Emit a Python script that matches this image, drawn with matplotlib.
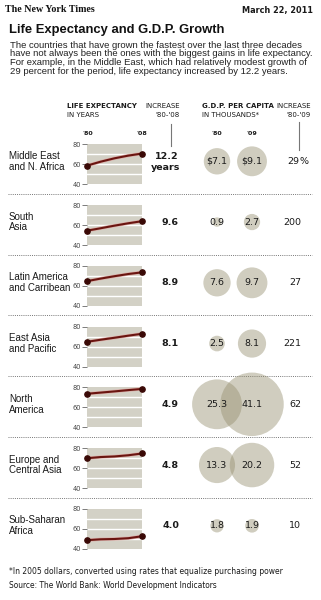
import matplotlib
matplotlib.use("Agg")
import matplotlib.pyplot as plt
import numpy as np

# ---------------- data ----------------
regions = ["Middle East\nand N. Africa", "South\nAsia", "Latin America\nand Carribean",
           "East Asia\nand Pacific", "North\nAmerica", "Europe and\nCentral Asia",
           "Sub-Saharan\nAfrica"]
years = [1980, 1987, 1994, 2001, 2008]
life_mena = [58.6, 62.6, 66.0, 68.7, 70.8]
life_sa = [54.3, 56.8, 59.4, 61.8, 63.9]
life_lac = [64.6, 67.2, 69.6, 71.8, 73.5]
life_eap = [64.7, 66.8, 68.8, 70.9, 72.8]
life_na = [73.5, 74.7, 75.9, 77.2, 78.4]
life_eca = [69.8, 71.0, 71.6, 72.8, 74.6]
life_ssa = [48.6, 49.5, 49.8, 50.6, 52.6]
life_series = [life_mena, life_sa, life_lac, life_eap, life_na, life_eca, life_ssa]
life_increase = [12.2, 9.6, 8.9, 8.1, 4.9, 4.8, 4.0]
gdp80 = [7.1, 0.9, 7.6, 2.5, 25.3, 13.3, 1.8]
gdp09 = [9.1, 2.7, 9.7, 8.1, 41.1, 20.2, 1.9]
gdp_increase = [29, 200, 27, 221, 62, 52, 10]
yticks = [40, 60, 80]

W, H = 321, 600
DPI = 100
fig = plt.figure(figsize=(W / DPI, H / DPI), dpi=DPI)
fig.patch.set_facecolor("white")
ax = fig.add_axes([0, 0, 1, 1])
ax.set_xlim(0, W)
ax.set_ylim(H, 0)
ax.axis("off")

renderer = fig.canvas.get_renderer()


def fit(x, y, s, width, **kw):
    t = ax.text(x, y, s, fontsize=10, **kw)
    bb = t.get_window_extent(renderer)
    t.set_fontsize(10 * width / bb.width)
    return t

SANS = "DejaVu Sans"
ARIAL = "Liberation Sans"
TXT = "#1a1a1a"

# header
fit(5, 10, "The New York Times", 90, family="Liberation Serif", weight="bold",
    va="center", ha="left", color="#111")
ax.text(313, 10.5, "March 22, 2011", fontsize=5.9, family=SANS, weight="bold",
        va="center", ha="right", color=TXT)
fit(9, 30, "Life Expectancy and G.D.P. Growth", 217, family=ARIAL, weight="bold",
    va="center", ha="left", color="#111")
sub = ["The countries that have grown the fastest over the last three decades",
       "have not always been the ones with the biggest gains in life expectancy.",
       "For example, in the Middle East, which had relatively modest growth of",
       "29 percent for the period, life expectancy increased by 12.2 years."]
t0 = fit(10, 45, sub[0], 291.5, family=ARIAL, va="center", ha="left", color="#222")
fs_sub = t0.get_fontsize()
for i, line in enumerate(sub[1:], 1):
    ax.text(10, 45 + 8.7 * i, line, fontsize=fs_sub, family=ARIAL, va="center",
            ha="left", color="#222")

# column headers
HFS = 5.0
ax.text(67, 105.7, "LIFE EXPECTANCY", fontsize=HFS, family=SANS, weight="bold",
        va="center", ha="left", color=TXT)
ax.text(67, 115, "IN YEARS", fontsize=HFS, family=SANS, va="center", ha="left", color=TXT)
ax.text(180, 105.7, "INCREASE", fontsize=HFS, family=SANS, va="center", ha="right", color=TXT)
ax.text(180, 115, "'80-'08", fontsize=HFS, family=SANS, va="center", ha="right", color=TXT)
ax.text(202, 105.7, "G.D.P. PER CAPITA", fontsize=HFS, family=SANS, weight="bold",
        va="center", ha="left", color=TXT)
ax.text(202, 115, "IN THOUSANDS*", fontsize=HFS, family=SANS, va="center", ha="left", color=TXT)
ax.text(311, 105.7, "INCREASE", fontsize=HFS, family=SANS, va="center", ha="right", color=TXT)
ax.text(311, 115, "'80-'09", fontsize=HFS, family=SANS, va="center", ha="right", color=TXT)
ax.plot([170.7, 170.7], [124, 146], color="#777", lw=0.8)
ax.plot([299, 299], [122, 150], color="#777", lw=0.8)
for xx, s in [(87.3, "'80"), (141.7, "'08"), (217, "'80"), (252, "'09")]:
    ax.text(xx, 133.3, s, fontsize=4.6, family=SANS, weight="bold", va="center",
            ha="center", color=TXT)

# rows
PX0, PX1 = 86.7, 142.3
TOP0, PITCH = 144.3, 60.75
CX80, CX09 = 217, 252
K = 4.95  # px radius per sqrt(thousand $)
FS = 6.8
LFS = 7.0
for i, name in enumerate(regions):
    top = TOP0 + PITCH * i
    bot = top + 40
    yc = top + 20 - 3
    # label
    ax.text(9, yc, name, fontsize=LFS, family=ARIAL, va="center", ha="left",
            color=TXT, linespacing=1.1)
    # mini chart
    pax = fig.add_axes([PX0 / W, 1 - bot / H, (PX1 - PX0) / W, (bot - top) / H])
    pax.set_facecolor("#d3d1c6")
    pax.set_xlim(years[0], years[-1])
    pax.set_ylim(yticks[0], yticks[-1])
    for sp in pax.spines.values():
        sp.set_visible(False)
    for g in [50, 60, 70]:
        pax.axhline(g, color="white", lw=1.0, zorder=1)
    pax.set_xticks([])
    pax.set_yticks(yticks)
    pax.set_yticklabels([str(v) for v in yticks])
    pax.tick_params(axis="y", length=3.5, width=0.6, color="#666", pad=0.5,
                    labelsize=4.8, labelcolor="#444")
    ys = life_series[i]
    pax.plot(years, ys, color="#dcb0aa", lw=2.4, solid_capstyle="round",
             zorder=2, clip_on=False)
    pax.plot(years, ys, color="#6a1510", lw=1.5, solid_capstyle="round",
             zorder=3, clip_on=False)
    pax.plot([years[0], years[-1]], [ys[0], ys[-1]], "o", color="#3a0906",
             ms=3.8, zorder=4, clip_on=False)
    # increase
    if i == 0:
        ax.text(179, yc - 5, f"{life_increase[i]:.1f}", fontsize=FS, family=SANS,
                weight="bold", va="center", ha="right", color=TXT)
        ax.text(180, yc + 6, "years", fontsize=FS, family=SANS, weight="bold",
                va="center", ha="right", color=TXT)
    else:
        ax.text(179, yc, f"{life_increase[i]:.1f}", fontsize=FS, family=SANS,
                weight="bold", va="center", ha="right", color=TXT)
    # bubbles (area proportional to value)
    for cx, v in [(CX80, gdp80[i]), (CX09, gdp09[i])]:
        d_pt = 2 * K * np.sqrt(v) * 72 / DPI
        ax.scatter([cx], [yc], s=d_pt ** 2, color=(151 / 255, 145 / 255, 113 / 255),
                   alpha=0.45, edgecolors="none", zorder=2)
        lab = f"${v:.1f}" if i == 0 else f"{v:.1f}"
        ax.text(cx, yc, lab, fontsize=FS, family=SANS, va="center", ha="center",
                color=TXT, zorder=3)
    # gdp increase
    if i == 0:
        ax.text(299, yc, f"{gdp_increase[i]}", fontsize=FS, family=SANS,
                va="center", ha="right", color=TXT)
        ax.text(300, yc, "%", fontsize=FS, family=SANS, va="center", ha="left", color=TXT)
    else:
        ax.text(301, yc, f"{gdp_increase[i]}", fontsize=FS, family=SANS,
                va="center", ha="right", color=TXT)
    # separator
    if i < len(regions) - 1:
        ys_ = bot + 9.6
        ax.plot([8, 312], [ys_, ys_], color="#777", lw=0.7, ls=(0, (1, 1.2)))

# footnotes
fit(9, 571, "*In 2005 dollars, converted using rates that equalize purchasing power",
    271, family=SANS, va="center", ha="left", color=TXT)
fit(9, 586, "Source: The World Bank: World Development Indicators", 209,
    family=SANS, va="center", ha="left", color=TXT)

fig.savefig("out.png", dpi=DPI, facecolor="white")
